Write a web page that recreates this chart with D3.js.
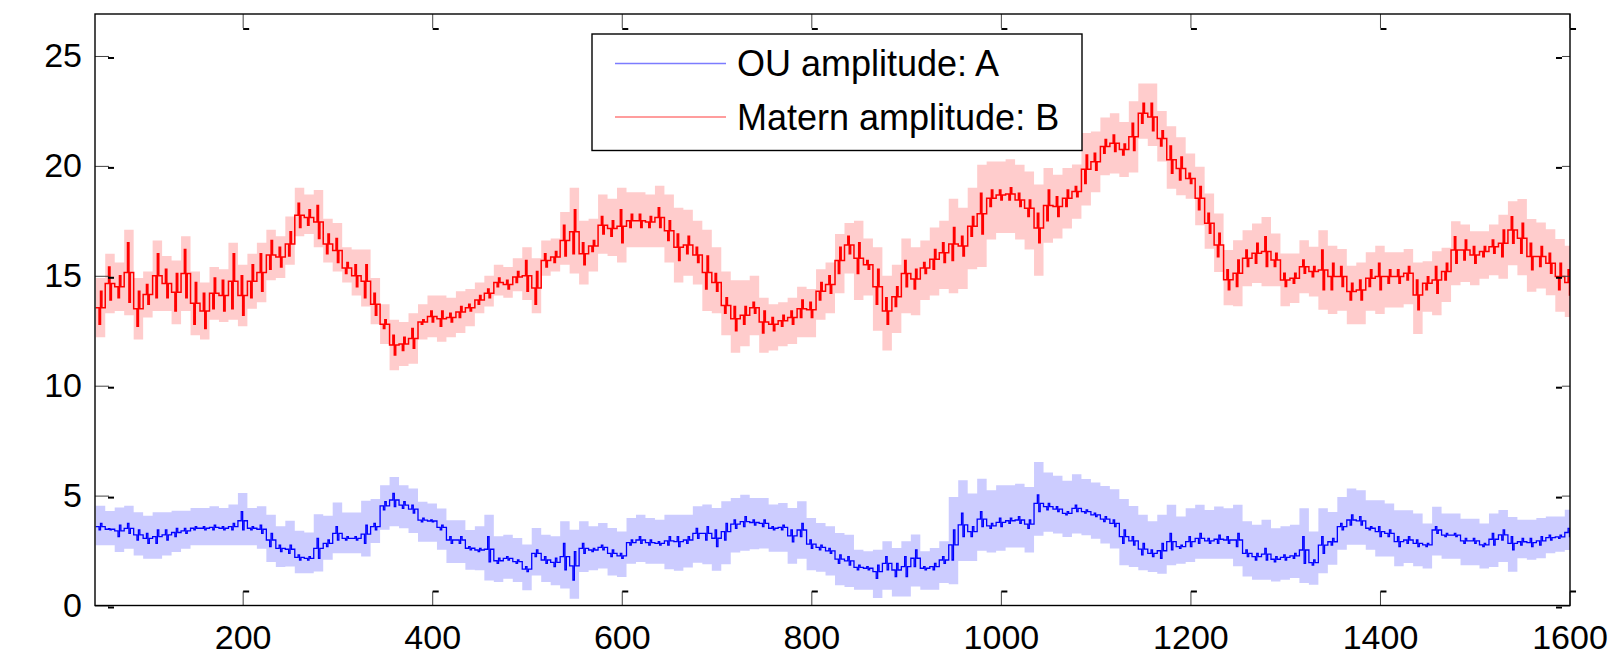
<!DOCTYPE html>
<html><head><meta charset="utf-8">
<script src="https://cdn.jsdelivr.net/npm/d3@7/dist/d3.min.js"></script>
<style>html,body{margin:0;padding:0;background:#fff;}svg{display:block;}</style>
</head><body>
<svg id="chart" width="1614" height="656"></svg>
<script>
// ---- data ----
const binStart = 50, binEnd = 1600, binStep = 10;   // x positions of the bins
const xTicks = [200, 400, 600, 800, 1000, 1200, 1400, 1600];
const yTicks = [0, 5, 10, 15, 20, 25];
const seriesNames = ["OU amplitude: A", "Matern amplitude: B"];

// Matern amplitude B: low / high of the (jagged) line in each bin
const redLo = [
 12.8,13.9,14.0,13.8,12.7,13.7,14.0,14.0,13.4,14.0,
 12.8,12.6,13.5,13.4,13.5,13.2,14.0,14.3,15.3,15.4,
 15.9,17.2,17.3,16.7,16.0,15.6,15.1,14.5,14.0,13.2,
 12.6,11.4,11.6,11.7,12.8,12.9,12.7,12.9,13.1,13.4,
 13.7,14.0,14.5,14.4,14.7,14.3,13.7,15.4,15.6,15.9,
 16.0,15.5,16.1,16.9,16.8,16.5,17.2,17.2,17.2,17.2,
 16.6,15.7,16.0,15.6,14.4,14.3,13.3,12.5,12.8,13.3,
 12.4,12.5,12.7,12.8,13.1,13.1,13.9,14.2,15.1,16.0,
 15.1,15.3,13.7,12.8,13.6,14.5,14.4,15.1,15.3,15.6,
 15.7,15.9,16.8,16.9,18.15,18.45,18.45,18.15,17.7,16.5,
 17.5,17.7,18.15,18.6,19.2,19.8,20.57,20.65,20.5,20.7,
 21.94,21.6,20.9,19.66,19.36,19.2,18.0,16.93,15.87,14.36,
 14.51,15.42,15.57,15.42,15.42,14.51,14.66,15.11,14.96,14.36,
 14.36,14.51,13.9,13.9,14.51,14.36,14.66,14.66,14.81,13.45,
 14.36,14.2,14.81,15.57,15.72,15.57,15.87,16.02,15.87,16.48,
 16.02,15.27,15.42,15.11,14.36,14.13];
const redHi = [
 14.3,15.4,15.0,16.5,14.3,14.6,16.0,15.3,15.1,16.2,
 14.7,14.2,14.9,14.8,16.0,15.0,15.5,16.0,16.6,16.3,
 17.0,18.3,18.0,18.2,16.9,16.7,15.6,15.5,15.5,14.2,
 13.0,12.3,12.2,12.6,13.0,13.4,13.4,13.3,13.6,13.7,
 14.1,14.4,14.9,14.8,15.2,15.7,15.2,16.0,16.1,17.3,
 18.0,16.5,16.6,17.7,17.5,18.0,17.8,17.8,17.7,18.1,
 17.5,16.9,16.8,16.3,15.9,15.1,14.0,13.6,13.6,13.8,
 13.4,13.1,13.2,13.4,13.9,13.8,14.7,15.0,16.3,16.8,
 16.5,15.7,15.3,14.0,14.5,15.7,15.3,15.6,16.2,16.5,
 17.2,16.8,17.7,18.75,18.9,18.9,19.0,18.75,18.45,17.85,
 18.9,18.6,18.9,19.06,20.5,20.57,21.2,21.4,21.0,21.94,
 22.85,22.85,21.6,20.9,20.4,19.66,19.06,17.84,16.93,15.27,
 15.72,16.17,16.48,16.78,16.02,15.11,15.11,15.72,15.42,16.17,
 15.57,15.42,14.66,14.81,15.27,15.57,15.27,15.27,15.42,14.81,
 14.96,15.42,15.57,16.78,16.63,16.33,16.33,16.63,17.08,17.69,
 17.39,16.48,16.33,16.02,15.57,15.27];
// band margins beyond the line, per 100-unit segment
const redBandUp   = [0.6,0.5,0.7,0.7,0.6,1.0,1.2,0.6,1.0,1.3,1.0,0.9,0.9,0.8,0.7,1.1];
const redBandDown = [0.6,0.5,0.4,0.7,0.4,0.9,1.0,0.9,1.2,1.5,1.0,0.7,0.9,1.1,1.0,1.0];

// OU amplitude A
const blueLo = [
 3.44,3.44,3.13,3.28,2.98,2.83,2.83,2.98,3.13,3.28,
 3.44,3.44,3.44,3.44,3.44,3.44,3.44,3.28,2.68,2.45,
 2.37,2.07,2.07,2.15,2.68,2.98,2.98,2.98,2.83,3.44,
 4.35,4.5,4.42,4.2,3.8,3.8,3.44,2.83,2.83,2.53,
 2.45,1.99,1.92,2.07,1.92,1.54,2.22,1.92,1.77,1.62,
 1.16,2.37,2.45,2.53,2.22,2.15,2.75,2.83,2.75,2.75,
 2.75,2.68,2.83,3.05,2.98,2.68,2.98,3.51,3.59,3.66,
 3.59,3.44,3.44,2.9,3.13,2.6,2.53,2.37,1.92,1.84,
 1.62,1.62,1.24,1.62,1.31,1.31,1.77,1.62,1.62,1.92,
 2.07,3.13,3.13,3.59,3.51,3.59,3.74,3.74,3.51,4.27,
 4.35,4.27,4.12,4.27,4.2,4.04,3.82,3.59,2.83,2.75,
 2.3,2.22,2.15,2.53,2.6,2.68,2.83,2.83,2.83,2.83,
 2.68,2.22,2.07,2.07,1.99,2.07,2.15,1.92,1.84,2.37,
 2.75,3.44,3.66,3.66,3.44,3.13,3.13,2.68,2.83,2.68,
 2.68,3.28,3.13,3.13,2.83,2.83,2.68,2.75,2.98,2.53,
 2.75,2.68,2.75,2.98,3.05,3.13];
const blueHi = [
 3.74,3.5,3.66,3.74,3.44,3.28,3.44,3.44,3.51,3.51,
 3.59,3.59,3.66,3.59,3.74,4.27,3.59,3.66,3.28,2.75,
 2.75,2.3,2.22,3.05,2.98,3.59,3.13,3.13,3.66,3.74,
 4.72,5.1,4.72,4.57,3.97,3.89,3.66,3.13,3.13,2.68,
 2.6,3.13,2.15,2.22,2.07,1.77,2.53,2.22,2.15,2.83,
 2.45,2.83,2.6,2.75,2.53,2.37,2.98,3.13,2.98,2.9,
 3.13,3.13,3.13,3.51,3.59,3.44,3.74,3.89,4.04,3.89,
 3.89,3.59,3.66,3.44,3.74,2.98,2.75,2.6,2.3,2.22,
 1.84,1.77,1.84,2.22,1.92,2.22,2.53,1.77,1.92,2.22,
 3.44,4.2,3.59,4.27,3.74,3.97,3.97,4.04,3.89,5.03,
 4.65,4.5,4.27,4.57,4.35,4.2,4.04,3.89,3.44,3.13,
 2.83,2.53,2.83,3.28,2.75,3.13,3.28,3.05,3.2,3.13,
 3.28,2.53,2.37,2.6,2.22,2.3,2.37,3.13,2.07,3.13,
 3.05,3.74,4.12,4.04,3.59,3.59,3.44,3.13,3.13,2.98,
 2.83,3.59,3.28,3.28,3.05,3.05,2.83,3.28,3.44,3.13,
 3.05,3.05,3.13,3.2,3.2,3.51];
const blueBandUp   = [0.8,0.85,1.1,0.75,1.0,1.0,1.0,1.0,0.7,1.5,1.4,1.3,1.3,1.2,0.9,0.85];
const blueBandDown = [0.7,0.7,0.6,0.9,0.85,0.85,1.1,1.0,0.9,1.1,1.0,0.7,0.9,0.9,1.0,0.6];

// ---- layout ----
const W = 1614, H = 656;
const m = {left: 95, right: 1570, top: 14, bottom: 605.5};
const FONT = "'Liberation Sans', Arial, Helvetica, sans-serif";

const xBins = d3.range(binStart, binEnd + 1, binStep);
const x = d3.scaleLinear().domain([44.2, 1600.5]).range([m.left, m.right]);
const y = d3.scaleLinear().domain([0, 26.91]).range([m.bottom, m.top]);

const svg = d3.select("#chart");
svg.append("rect").attr("width", W).attr("height", H).attr("fill", "#fff");

svg.append("defs").append("clipPath").attr("id", "plotclip")
  .append("rect").attr("x", m.left).attr("y", m.top)
  .attr("width", m.right - m.left).attr("height", m.bottom - m.top);

const plot = svg.append("g").attr("clip-path", "url(#plotclip)");
const half = binStep / 2;
const seg = i => Math.min(15, Math.floor((xBins[i] - binStart) / 100));

function bandPts(lo, hi, up, down) {
  const pts = [];
  xBins.forEach((xv, i) => {
    const d = {y0: lo[i] - down[seg(i)], y1: hi[i] + up[seg(i)]};
    pts.push({x: xv - half, ...d}, {x: xv + half, ...d});
  });
  return pts;
}
// plateau at the bin's middle level with a narrow vertical spike spanning lo..hi
function linePts(lo, hi) {
  const pts = [];
  xBins.forEach((xv, i) => {
    const mid = (lo[i] + hi[i]) / 2;
    const a = i % 2 ? hi[i] : lo[i], b = i % 2 ? lo[i] : hi[i];
    pts.push([xv - half, mid], [xv - 1.5, mid], [xv - 1.5, a], [xv, a], [xv, b], [xv + 1.5, b], [xv + 1.5, mid], [xv + half, mid]);
  });
  return pts;
}
const area = d3.area().x(d => x(d.x)).y0(d => y(d.y0)).y1(d => y(d.y1));
const line = d3.line().x(d => x(d[0])).y(d => y(d[1]));

const series = [
  {lo: redLo, hi: redHi, up: redBandUp, down: redBandDown, band: "#ffcccc", col: "#ff0000", w: 1.5},
  {lo: blueLo, hi: blueHi, up: blueBandUp, down: blueBandDown, band: "#ccccff", col: "#0000ff", w: 1.3}
];
series.forEach(s => {
  plot.append("path").attr("d", area(bandPts(s.lo, s.hi, s.up, s.down)))
    .attr("fill", s.band).attr("stroke", "none");
});
series.forEach(s => {
  plot.append("path").attr("d", line(linePts(s.lo, s.hi)))
    .attr("fill", "none").attr("stroke", s.col).attr("stroke-width", s.w)
    .attr("stroke-linejoin", "miter");
});

// ---- axes (MATLAB style: inward ticks) ----
const TL = 14;
const gx = svg.append("g").attr("transform", `translate(0,${m.bottom})`)
  .call(d3.axisBottom(x).tickValues(xTicks).tickSize(-TL).tickPadding(19).tickFormat(d3.format("d")));
const gy = svg.append("g").attr("transform", `translate(${m.left},0)`)
  .call(d3.axisLeft(y).tickValues(yTicks).tickSize(-TL).tickPadding(13).tickFormat(d3.format("d")));
const gxt = svg.append("g").attr("transform", `translate(0,${m.top})`)
  .call(d3.axisTop(x).tickValues(xTicks).tickSize(-TL).tickFormat(""));
const gyr = svg.append("g").attr("transform", `translate(${m.right},0)`)
  .call(d3.axisRight(y).tickValues(yTicks).tickSize(-8).tickFormat(""));
[gx, gy, gxt, gyr].forEach(g => {
  g.select(".domain").remove();
  g.selectAll(".tick line").attr("stroke", "#444").attr("stroke-width", 1);
  g.selectAll("text").attr("font-family", FONT).attr("font-size", 34).attr("fill", "#000");
});
// small dark dashes at tick ends
const dash = (g, f) => g.selectAll(".tick").append("rect").each(function() {
  const r = d3.select(this); const a = f(); r.attr("x", a[0]).attr("y", a[1]).attr("width", a[2]).attr("height", a[3]).attr("fill", "#000");
});
dash(gx, () => [0, -TL - 1, 6, 2]);
dash(gxt, () => [0, TL, 6, 2]);
dash(gy, () => [TL - 1, 0.5, 6, 2]);
dash(gyr, () => [-14, 0.5, 6, 2]);

// frame
svg.append("rect").attr("x", m.left).attr("y", m.top)
  .attr("width", m.right - m.left).attr("height", m.bottom - m.top)
  .attr("fill", "none").attr("stroke", "#000").attr("stroke-width", 1.4);

// ---- legend ----
const lg = svg.append("g");
lg.append("rect").attr("x", 592).attr("y", 34).attr("width", 490).attr("height", 116.5)
  .attr("fill", "#fff").attr("stroke", "#000").attr("stroke-width", 1.4);
const legendItems = [
  {name: seriesNames[0], col: "#7c7cff", yy: 63.5},
  {name: seriesNames[1], col: "#ff7c7c", yy: 117}
];
legendItems.forEach(d => {
  lg.append("line").attr("x1", 615).attr("x2", 726).attr("y1", d.yy).attr("y2", d.yy)
    .attr("stroke", d.col).attr("stroke-width", 1.3);
  lg.append("text").attr("x", 737).attr("y", d.yy).attr("dy", "0.35em")
    .attr("font-family", FONT).attr("font-size", 36).attr("fill", "#000").text(d.name);
});
</script>
</body></html>
